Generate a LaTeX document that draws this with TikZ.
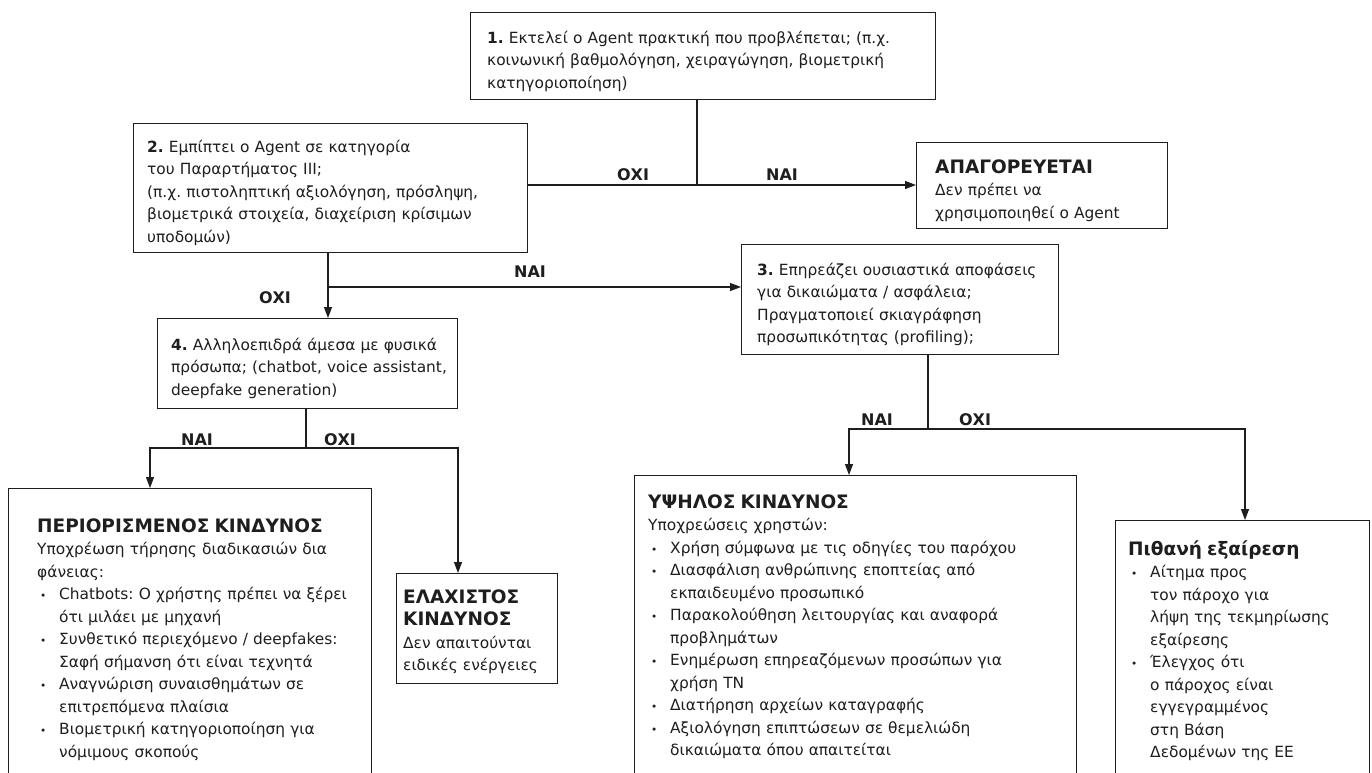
\documentclass[tikz,border=0pt]{standalone}
\usepackage{fontspec}
\setmainfont{DejaVu Sans}
\usetikzlibrary{arrows.meta}
\frenchspacing
\definecolor{ink}{RGB}{30,30,30}
\newcommand\itm[1]{\par\noindent\hangindent=22pt\hangafter=1\hbox to 22pt{\hspace{3pt}{\fontsize{10.5}{10}\selectfont •}\hfil}#1}
\newcommand\ttl[1]{{\fontsize{18.5}{22}\selectfont\bfseries #1}}
\tikzset{
  box/.style={draw=ink, line width=1.1pt, inner sep=0pt, anchor=north west},
  txt/.style={anchor=base west, inner sep=0pt, align=left, text width=#1, text=ink,
              font=\fontsize{15.4}{22.5}\selectfont},
  lab/.style={inner sep=0pt, text=ink, font=\fontsize{16}{16}\selectfont\bfseries},
  conn/.style={draw=ink, line width=1.1pt},
  arr/.style={conn, -{Triangle[length=11pt,width=8pt]}}
}
\begin{document}
\begin{tikzpicture}[x=1pt,y=-1pt]
\useasboundingbox[fill=white] (0,0) rectangle (1372,772);

% boxes
\node[box, minimum width=465pt, minimum height=87pt]  (b1) at (470,12) {};
\node[box, minimum width=394pt, minimum height=129pt] (b2) at (133,123) {};
\node[box, minimum width=251pt, minimum height=86pt]  (bA) at (916,142) {};
\node[box, minimum width=317pt, minimum height=110pt] (b3) at (741,244) {};
\node[box, minimum width=300pt, minimum height=90pt]  (b4) at (157,318) {};
\node[box, minimum width=363pt, minimum height=400pt] (bL) at (8,488) {};
\node[box, minimum width=161pt, minimum height=110pt] (bM) at (396,573) {};
\node[box, minimum width=442pt, minimum height=400pt] (bH) at (634,475) {};
\node[box, minimum width=254pt, minimum height=400pt] (bE) at (1115,520) {};

% texts
\node[txt=460pt] (t1) at (487,43) {\textbf{1.} Εκτελεί ο Agent πρακτική που προβλέπεται; (π.χ.\\
κοινωνική βαθμολόγηση, χειραγώγηση, βιομετρική\\ κατηγοριοποίηση)};
\node[txt=390pt] (t2) at (147,152) {\textbf{2.} Εμπίπτει ο Agent σε κατηγορία\\ του Παραρτήματος ΙΙΙ;\\
(π.χ. πιστοληπτική αξιολόγηση, πρόσληψη,\\ βιομετρικά στοιχεία, διαχείριση κρίσιμων\\ υποδομών)};
\node[txt=250pt] (tA) at (935,173) {\ttl{ΑΠΑΓΟΡΕΥΕΤΑΙ}\par Δεν πρέπει να\\ χρησιμοποιηθεί ο Agent};
\node[txt=320pt] (t3) at (757,275) {\textbf{3.} Επηρεάζει ουσιαστικά αποφάσεις\\ για δικαιώματα / ασφάλεια;\\
Πραγματοποιεί σκιαγράφηση\\ προσωπικότητας (profiling);};
\node[txt=300pt] (t4) at (171,350) {\textbf{4.} Αλληλοεπιδρά άμεσα με φυσικά\\ πρόσωπα; (chatbot, voice assistant,\\ deepfake generation)};
\node[txt=340pt] (tL) at (37,532) {\ttl{ΠΕΡΙΟΡΙΣΜΕΝΟΣ ΚΙΝΔΥΝΟΣ}\par
Υποχρέωση τήρησης διαδικασιών δια\newline φάνειας:
\itm{Chatbots: Ο χρήστης πρέπει να ξέρει\newline ότι μιλάει με μηχανή}
\itm{Συνθετικό περιεχόμενο / deepfakes:\newline Σαφή σήμανση ότι είναι τεχνητά}
\itm{Αναγνώριση συναισθημάτων σε\newline επιτρεπόμενα πλαίσια}
\itm{Βιομετρική κατηγοριοποίηση για\newline νόμιμους σκοπούς}\par};
\node[txt=160pt] (tM) at (403,603) {\ttl{ΕΛΑΧΙΣΤΟΣ\\ ΚΙΝΔΥΝΟΣ}\par Δεν απαιτούνται\\ ειδικές ενέργειες};
\node[txt=420pt] (tH) at (648,508) {\ttl{ΥΨΗΛΟΣ ΚΙΝΔΥΝΟΣ}\par
Υποχρεώσεις χρηστών:
\itm{Χρήση σύμφωνα με τις οδηγίες του παρόχου}
\itm{Διασφάλιση ανθρώπινης εποπτείας από\newline εκπαιδευμένο προσωπικό}
\itm{Παρακολούθηση λειτουργίας και αναφορά\newline προβλημάτων}
\itm{Ενημέρωση επηρεαζόμενων προσώπων για\newline χρήση ΤΝ}
\itm{Διατήρηση αρχείων καταγραφής}
\itm{Αξιολόγηση επιπτώσεων σε θεμελιώδη\newline δικαιώματα όπου απαιτείται}\par};
\node[txt=240pt] (tE) at (1128,555) {\ttl{Πιθανή εξαίρεση}
\itm{Αίτημα προς\newline τον πάροχο για\newline λήψη της τεκμηρίωσης\newline εξαίρεσης}
\itm{Έλεγχος ότι\newline ο πάροχος είναι\newline εγγεγραμμένος\newline στη Βάση\newline Δεδομένων της ΕΕ}\par};

% junctions
\coordinate (j1) at (697,185);
\coordinate (j2) at (328,287);
\coordinate (j4) at (306,448);
\coordinate (l4) at (150,448);
\coordinate (r4) at (458,448);
\coordinate (j3) at (928,429);
\coordinate (l3) at (849,429);
\coordinate (r3) at (1245,429);

% connectors
\draw[conn] (b1.south -| j1) -- (j1);
\draw[arr] (b2.east |- j1) -- (bA.west |- j1);
\draw[conn] (b2.south -| j2) -- (j2);
\draw[arr] (j2) -- (b4.north -| j2);
\draw[arr] (j2) -- (b3.west |- j2);
\draw[conn] (b4.south -| j4) -- (j4);
\draw[arr] (j4) -- (l4) -- (bL.north -| l4);
\draw[arr] (j4) -- (r4) -- (bM.north -| r4);
\draw[conn] (b3.south -| j3) -- (j3);
\draw[arr] (j3) -- (l3) -- (bH.north -| l3);
\draw[arr] (j3) -- (r3) -- (bE.north -| r3);

% labels
\node[lab] (n1) at (633,175) {ΟΧΙ};
\node[lab] (n2) at (782,175) {ΝΑΙ};
\node[lab] (n3) at (530,272) {ΝΑΙ};
\node[lab] (n4) at (275,298) {ΟΧΙ};
\node[lab] (n5) at (197,440) {ΝΑΙ};
\node[lab] (n6) at (340,440) {ΟΧΙ};
\node[lab] (n7) at (877,420) {ΝΑΙ};
\node[lab] (n8) at (975,420) {ΟΧΙ};
\end{tikzpicture}
\end{document}
